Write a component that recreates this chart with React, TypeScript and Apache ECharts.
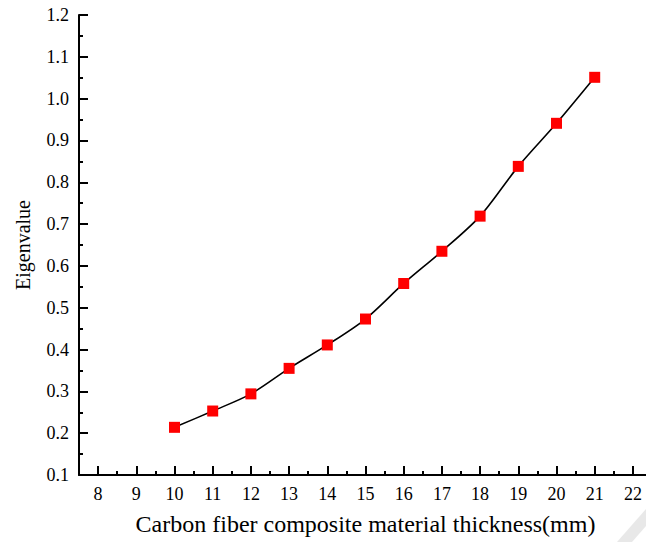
import React, { useEffect, useRef } from "react";
import * as echarts from "echarts";

const thickness = [10, 11, 12, 13, 14, 15, 16, 17, 18, 19, 20, 21];
const eigenvalues = [0.214, 0.253, 0.294, 0.355, 0.411, 0.473, 0.558, 0.635, 0.719, 0.838, 0.941, 1.051];
const xMajorTicks = [8, 9, 10, 11, 12, 13, 14, 15, 16, 17, 18, 19, 20, 21, 22];
const xMinorTicks = [7.5, 8.5, 9.5, 10.5, 11.5, 12.5, 13.5, 14.5, 15.5, 16.5, 17.5, 18.5, 19.5, 20.5, 21.5, 22.5];

const FONT = "'Liberation Serif', 'Times New Roman', serif";

export default function App() {
  const ref = useRef<HTMLDivElement>(null);
  useEffect(() => {
    if (!ref.current) return;
    const chart = echarts.init(ref.current, null, { renderer: "svg" });
    const axisLineStyle = { color: "#000", width: 2 };
    chart.setOption({
      animation: false,
      backgroundColor: "#fff",
      grid: { left: 79, right: 8, top: 15, bottom: 67, containLabel: false },
      xAxis: [
        {
          type: "value",
          min: 7.5,
          max: 22.5,
          position: "bottom",
          name: "Carbon fiber composite material thickness(mm)",
          nameLocation: "middle",
          nameGap: 37,
          nameTextStyle: { fontFamily: FONT, fontSize: 24, color: "#000" },
          axisLine: { show: true, lineStyle: axisLineStyle },
          axisTick: { show: true, inside: true, length: 9, lineStyle: axisLineStyle, customValues: xMajorTicks },
          axisLabel: {
            show: true,
            customValues: xMajorTicks,
            fontFamily: FONT,
            fontSize: 18,
            color: "#000",
            margin: 10,
          },
          splitLine: { show: false },
        },
        {
          type: "value",
          min: 7.5,
          max: 22.5,
          position: "bottom",
          axisLine: { show: false },
          axisTick: { show: true, inside: true, length: 4, lineStyle: axisLineStyle, customValues: xMinorTicks },
          axisLabel: { show: false },
          splitLine: { show: false },
        },
      ],
      yAxis: {
        type: "value",
        min: 0.1,
        max: 1.2,
        interval: 0.1,
        name: "Eigenvalue",
        nameLocation: "middle",
        nameGap: 46,
        nameTextStyle: { fontFamily: FONT, fontSize: 20, color: "#000" },
        axisLine: { show: true, lineStyle: axisLineStyle },
        axisTick: { show: true, inside: true, length: 9, lineStyle: axisLineStyle },
        minorTick: { show: true, splitNumber: 2, length: 4, lineStyle: { color: "#000", width: 2 } },
        axisLabel: {
          fontFamily: FONT,
          fontSize: 18,
          color: "#000",
          margin: 10,
          formatter: (v: number) => v.toFixed(1),
        },
        splitLine: { show: false },
      },
      graphic: [
        {
          type: "polygon",
          shape: { points: [[617, 542], [632, 542], [646, 526], [646, 509]] },
          style: { fill: "#e8e8e8" },
          silent: true,
          z: -1,
        },
      ],
      series: [
        {
          type: "line",
          xAxisIndex: 0,
          data: thickness.map((t, i) => [t, eigenvalues[i]]),
          smooth: 0.3,
          symbol: "rect",
          symbolSize: 11,
          lineStyle: { color: "#000", width: 1.6 },
          itemStyle: { color: "#ff0000" },
        },
      ],
    });
    return () => chart.dispose();
  }, []);
  return (
    <div style={{ position: "fixed", left: 0, top: 0, width: 646, height: 542, overflow: "hidden", background: "#fff" }}>
      <div ref={ref} style={{ width: 660, height: 542 }} />
    </div>
  );
}
